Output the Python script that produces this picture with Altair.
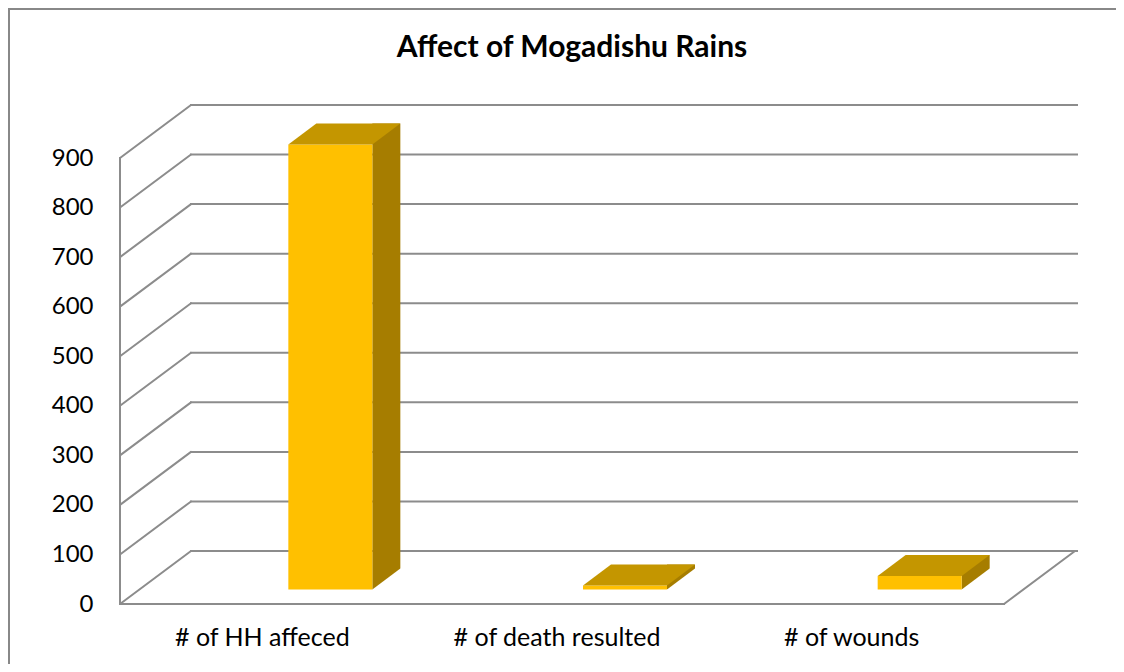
import altair as alt
import pandas as pd

# ---- data ----
categories = ["# of HH affeced", "# of death resulted", "# of wounds"]
values = [898, 8, 27]
tick_values = [0, 100, 200, 300, 400, 500, 600, 700, 800, 900]
title_text = "Affect of Mogadishu Rains"

# ---- style / geometry constants (pixels) ----
W, H = 884, 446            # front plane of the 3-D box
DX, DY = 71, -53           # wall depth projection
BAR_W = 84                 # bar front width
BDX, BDY = 28, -21         # bar depth projection
SHIFT_X, SHIFT_Y = 63, -14.5   # bar placement inside the box depth
GRID = "#8c8c8c"
FRONT = "#FFC000"
TOP = "#C49600"
SIDE = "#A67D00"
FONT = "Lato"

bars = pd.DataFrame({"category": categories, "value": values})
grid = pd.DataFrame({"v": tick_values})

x_scale = alt.Scale(type="band", domain=categories, paddingInner=0, paddingOuter=0)
y_scale = alt.Scale(domain=[0, 900], nice=False, zero=True)

x_axis = alt.Axis(title=None, ticks=False, domain=False, grid=False,
                  labelFont=FONT, labelFontSize=25, labelColor="black",
                  labelPadding=21, labelAngle=0, labelOffset=-5, labelLimit=0)
y_axis = alt.Axis(title=None, ticks=False, domain=False, grid=False,
                  values=tick_values, labelFont=FONT, labelFontSize=24,
                  labelColor="black", labelPadding=27, labelLimit=0)

yv = alt.Y("v:Q", scale=y_scale, axis=y_axis)
yval = alt.Y("value:Q", scale=y_scale, axis=y_axis)
xenc = alt.X("category:N", scale=x_scale, sort=categories, axis=x_axis)

base_grid = alt.Chart(grid)

# back wall gridlines
back = base_grid.mark_rule(color=GRID, strokeWidth=2, yOffset=DY, strokeCap="square").encode(
    y=yv, x=alt.value(DX), x2=alt.value(W + DX + 2),
)

# side wall diagonals
side_wall = base_grid.mark_rule(color=GRID, strokeWidth=2, y2Offset=DY, strokeCap="round").encode(
    y=yv, y2="v:Q", x=alt.value(0), x2=alt.value(DX),
)

zero = base_grid.transform_filter("datum.v == 0")

# front vertical axis line
axis_line = zero.mark_rule(color=GRID, strokeWidth=2, strokeCap="square").encode(
    x=alt.value(0), y=yv, y2=alt.datum(900),
)

# floor front edge
floor_front = zero.mark_rule(color=GRID, strokeWidth=2, strokeCap="square").encode(
    y=yv, x=alt.value(0), x2=alt.value(W),
)

# floor right diagonal
floor_right = zero.mark_rule(color=GRID, strokeWidth=2, y2Offset=DY, strokeCap="round").encode(
    y=yv, y2="v:Q", x=alt.value(W), x2=alt.value(W + DX),
)

# chart frame (left and top border)
frame_left = zero.mark_rule(color="#888888", strokeWidth=2).encode(
    x=alt.value(-111), y=alt.value(-150), y2=alt.value(H + 60)
)
frame_top = zero.mark_rule(color="#888888", strokeWidth=2).encode(
    y=alt.value(-149), x=alt.value(-112), x2=alt.value(W + 112)
)

# title as text
title = zero.mark_text(
    text=title_text, font=FONT, fontSize=30, fontWeight="bold", color="black",
    align="center", baseline="alphabetic",
).encode(x=alt.value(W / 2 + 10), y=alt.value(-101))

base_bar = alt.Chart(bars)

side = base_bar.mark_bar(width=BDX, xOffset=SHIFT_X + BAR_W / 2 + BDX / 2,
                         yOffset=SHIFT_Y + BDY, y2Offset=SHIFT_Y, color=SIDE).encode(
    x=xenc, y=yval, y2=alt.datum(0),
)

hx = BAR_W / 2
bottom_mask = base_bar.mark_point(
    shape=f"M{hx},0L{hx + BDX},{BDY}L{hx + BDX + 1.5},{BDY}L{hx + BDX + 1.5},1.5L{hx},1.5Z",
    size=4, filled=True, fill="white", opacity=1, strokeWidth=0,
    xOffset=SHIFT_X, yOffset=SHIFT_Y,
).encode(x=xenc, y=alt.datum(0))

front = base_bar.mark_bar(width=BAR_W, xOffset=SHIFT_X, yOffset=SHIFT_Y,
                          y2Offset=SHIFT_Y, color=FRONT).encode(
    x=xenc, y=yval, y2=alt.datum(0),
)

top = base_bar.mark_point(
    shape=f"M{-hx},0L{hx},0L{hx + BDX},{BDY}L{-hx + BDX},{BDY}Z",
    size=4, filled=True, fill=TOP, opacity=1, strokeWidth=0,
    xOffset=SHIFT_X, yOffset=SHIFT_Y,
).encode(x=xenc, y=yval)

chart = alt.layer(
    frame_left, frame_top, title, back, side_wall, axis_line, floor_front, floor_right,
    side, bottom_mask, front, top,
).properties(
    width=W, height=H,
    padding={"left": 112, "top": 150, "right": 112, "bottom": 60},
    autosize=alt.AutoSizeParams(type="none"),
).configure(background="white").configure_view(stroke=None)

chart.save("out.html", embed_options={"renderer": "svg", "actions": False})
